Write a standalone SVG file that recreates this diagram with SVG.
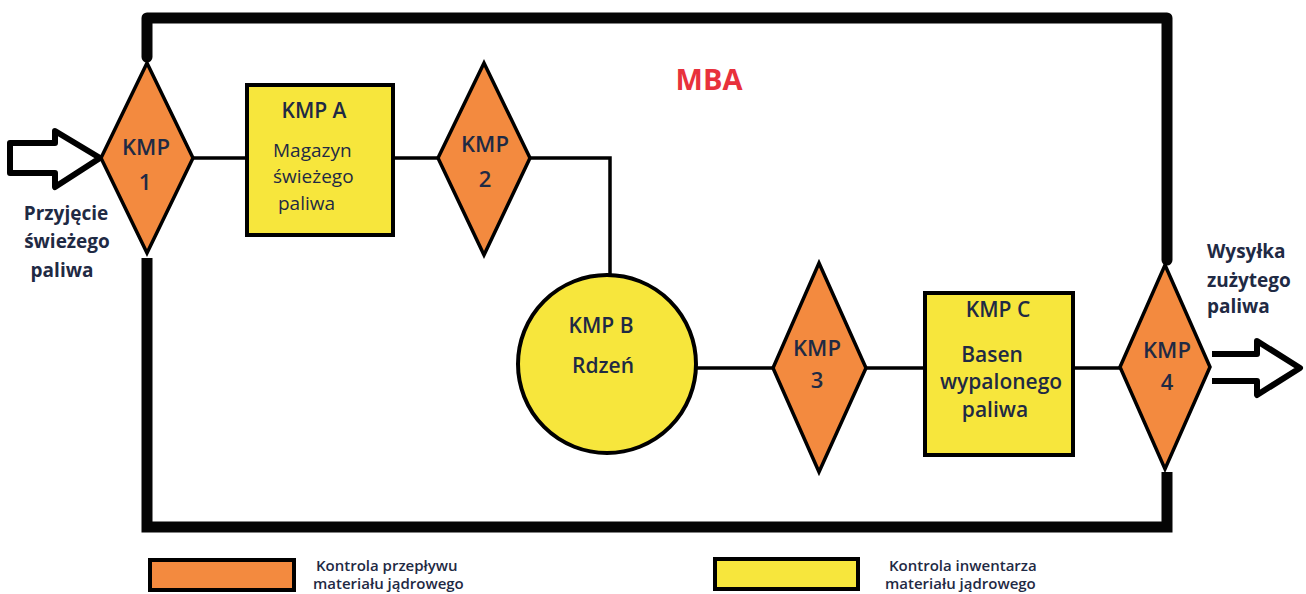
<svg xmlns="http://www.w3.org/2000/svg" width="1306" height="594" viewBox="0 0 1306 594">
<style>
.t{font-family:"Open Sans","Liberation Sans",sans-serif;fill:#1f2a44}
.kmp{font-size:22px;font-weight:600;text-anchor:middle}
.ttl{font-size:21px;font-weight:600;text-anchor:middle}
.body{font-size:19px;font-weight:500}
.side{font-size:19px;font-weight:700}
.leg{font-size:15px;font-weight:600}
.dia{fill:#f38a3f;stroke:#000;stroke-width:3.5;stroke-linejoin:miter}
.inv{fill:#f7e63c;stroke:#000;stroke-width:4}
.frame{fill:none;stroke:#050505;stroke-width:11}
.con{fill:none;stroke:#000;stroke-width:3.5}
.arr{fill:#fff;stroke:#000;stroke-width:6;stroke-linejoin:round}
</style>
<g id="frame">
<path class="frame" d="M147,57 L147,18 L1167,18 L1167,260" stroke-linejoin="round" stroke-linecap="round"/>
<path class="frame" d="M147,258 L147,527 L1167,527 L1167,472" stroke-linejoin="miter"/>
</g>
<g id="connectors">
<path class="con" d="M193,158 L247,158"/>
<path class="con" d="M393,158 L438,158"/>
<path class="con" d="M530,158 L610,158 L610,274"/>
<path class="con" d="M697,368 L773,368"/>
<path class="con" d="M866,368 L925,368"/>
<path class="con" d="M1073,368 L1120,368"/>
</g>
<g id="arrow-in">
<path class="arr" d="M10,143 L55,143 L55,131 L100,158 L55,187 L55,173 L10,173 Z"/>
</g>
<g id="arrow-out">
<path class="arr" d="M1212,354 L1257,354 L1257,341 L1300,368 L1257,395 L1257,381 L1212,381"/>
</g>
<text class="t side" x="66" y="220" text-anchor="middle">Przyjęcie</text>
<text class="t side" x="67" y="248" text-anchor="middle">świeżego</text>
<text class="t side" x="62" y="277" text-anchor="middle">paliwa</text>
<text class="t side" x="1207" y="258">Wysyłka</text>
<text class="t side" x="1207" y="287">zużytego</text>
<text class="t side" x="1207" y="313">paliwa</text>
<text id="mba" x="709" y="90" font-family="Open Sans, Liberation Sans, sans-serif" font-size="29" font-weight="700" fill="#e8313c" text-anchor="middle">MBA</text>
<g id="kmp1">
<polygon class="dia" points="147,63 193,158 147,253 101,158"/>
<text class="t kmp" x="146" y="155">KMP</text>
<text class="t kmp" x="145" y="190">1</text>
</g>
<g id="kmpA">
<rect class="inv" x="247" y="85" width="146" height="150"/>
<text class="t ttl" x="314" y="118">KMP A</text>
<text class="t body" x="273" y="157">Magazyn</text>
<text class="t body" x="273" y="183">świeżego</text>
<text class="t body" x="278" y="210">paliwa</text>
</g>
<g id="kmp2">
<polygon class="dia" points="484,63 530,158 484,255 438,158"/>
<text class="t kmp" x="485" y="152">KMP</text>
<text class="t kmp" x="485" y="187">2</text>
</g>
<g id="kmpB">
<circle class="inv" cx="607" cy="364" r="89"/>
<text class="t ttl" x="601" y="333">KMP B</text>
<text class="t ttl" x="603" y="373">Rdzeń</text>
</g>
<g id="kmp3">
<polygon class="dia" points="819,263 866,368 819,472 773,368"/>
<text class="t kmp" x="817" y="356">KMP</text>
<text class="t kmp" x="817" y="388">3</text>
</g>
<g id="kmpC">
<rect class="inv" x="925" y="293" width="148" height="162"/>
<text class="t ttl" x="998" y="317">KMP C</text>
<text class="t ttl" x="992" y="362">Basen</text>
<text class="t ttl" x="1001" y="389">wypalonego</text>
<text class="t ttl" x="995" y="417">paliwa</text>
</g>
<g id="kmp4">
<polygon class="dia" points="1165,265 1210,367 1165,469 1120,367"/>
<text class="t kmp" x="1167" y="358">KMP</text>
<text class="t kmp" x="1167" y="390">4</text>
</g>
<g id="legend-flow">
<rect x="150" y="560" width="144" height="30" fill="#f38a3f" stroke="#000" stroke-width="4"/>
<text class="t leg" x="316" y="571">Kontrola przepływu</text>
<text class="t leg" x="313" y="589">materiału jądrowego</text>
</g>
<g id="legend-inventory">
<rect x="715" y="559" width="143" height="30" fill="#f7e63c" stroke="#000" stroke-width="4"/>
<text class="t leg" x="889" y="571">Kontrola inwentarza</text>
<text class="t leg" x="885" y="589">materiału jądrowego</text>
</g>
</svg>
